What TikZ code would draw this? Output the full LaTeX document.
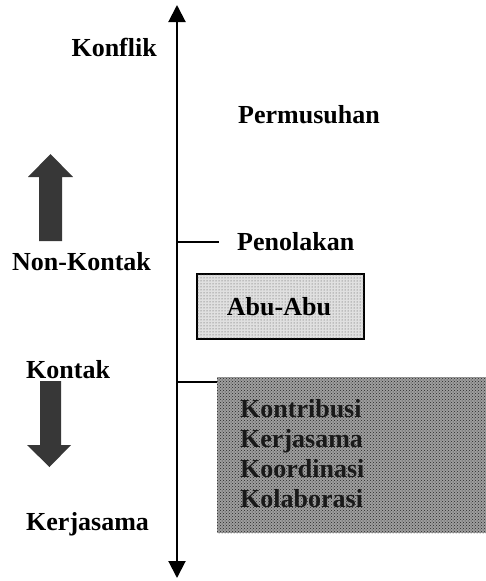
\documentclass[tikz,border=0pt]{standalone}
\usepackage{fontspec}
\setmainfont{Liberation Serif}
\usetikzlibrary{arrows.meta,positioning,patterns}
\definecolor{blok}{RGB}{55,55,55}

\begin{document}
\begin{tikzpicture}[x=1pt,y=-1pt,>={Triangle[length=17pt,width=17pt]},
  lbl/.style={font=\bfseries\fontsize{26}{30}\selectfont,inner sep=0pt},
  abubox/.style={draw,line width=1.5pt,fill=black!12,postaction={pattern=dots,pattern color=black!70},
    minimum width=167pt,minimum height=65pt,inner sep=0pt},
  kbox/.style={fill=black!38,postaction={pattern=crosshatch dots,pattern color=black!85},
    minimum width=269pt,minimum height=156pt,inner sep=0pt}]
\useasboundingbox (0,0) rectangle (486,581);
\coordinate (top) at (177,5);
\coordinate (bot) at (177,578);
\draw[line width=2pt,<->] (bot) -- (top);
\node[lbl,anchor=base east] (konflik) at (157,56) {Konflik};
\node[lbl,anchor=base west] (musuh) at (238,123) {Permusuhan};
\node[lbl,anchor=base west] (tolak) at (237,250) {Penolakan};
\node[lbl,anchor=base west] (nonkontak) at (12,270) {Non-Kontak};
\node[lbl,anchor=base west] (kontak) at (26,378) {Kontak};
\node[lbl,anchor=base west] (kerja) at (26,530) {Kerjasama};
\node[abubox] (abu) at (280.5,306.5) {};
\node[lbl,anchor=base] at (279,315) {Abu-Abu};
\node[kbox] (koop) at (351.5,455) {};
\foreach \t [count=\i] in {Kontribusi,Kerjasama,Koordinasi,Kolaborasi}
  \node[lbl,text=black!90,anchor=base west] (k\i) at (240,387+30*\i) {\t};
\coordinate (t1) at (177,242);
\coordinate (t2) at (177,382);
\draw[line width=1.5pt] (t1) -- (219,242);
\draw[line width=1.5pt] (t2) -- (t2 -| koop.west);
% block arrows
\fill[blok] (50.5,154) -- (73,177) -- (62,177) -- (62,241) -- (39,241) -- (39,177) -- (28,177) -- cycle;
\fill[blok] (40,381) -- (61,381) -- (61,445) -- (71,445) -- (49.5,467) -- (27,445) -- (40,445) -- cycle;
\end{tikzpicture}
\end{document}
